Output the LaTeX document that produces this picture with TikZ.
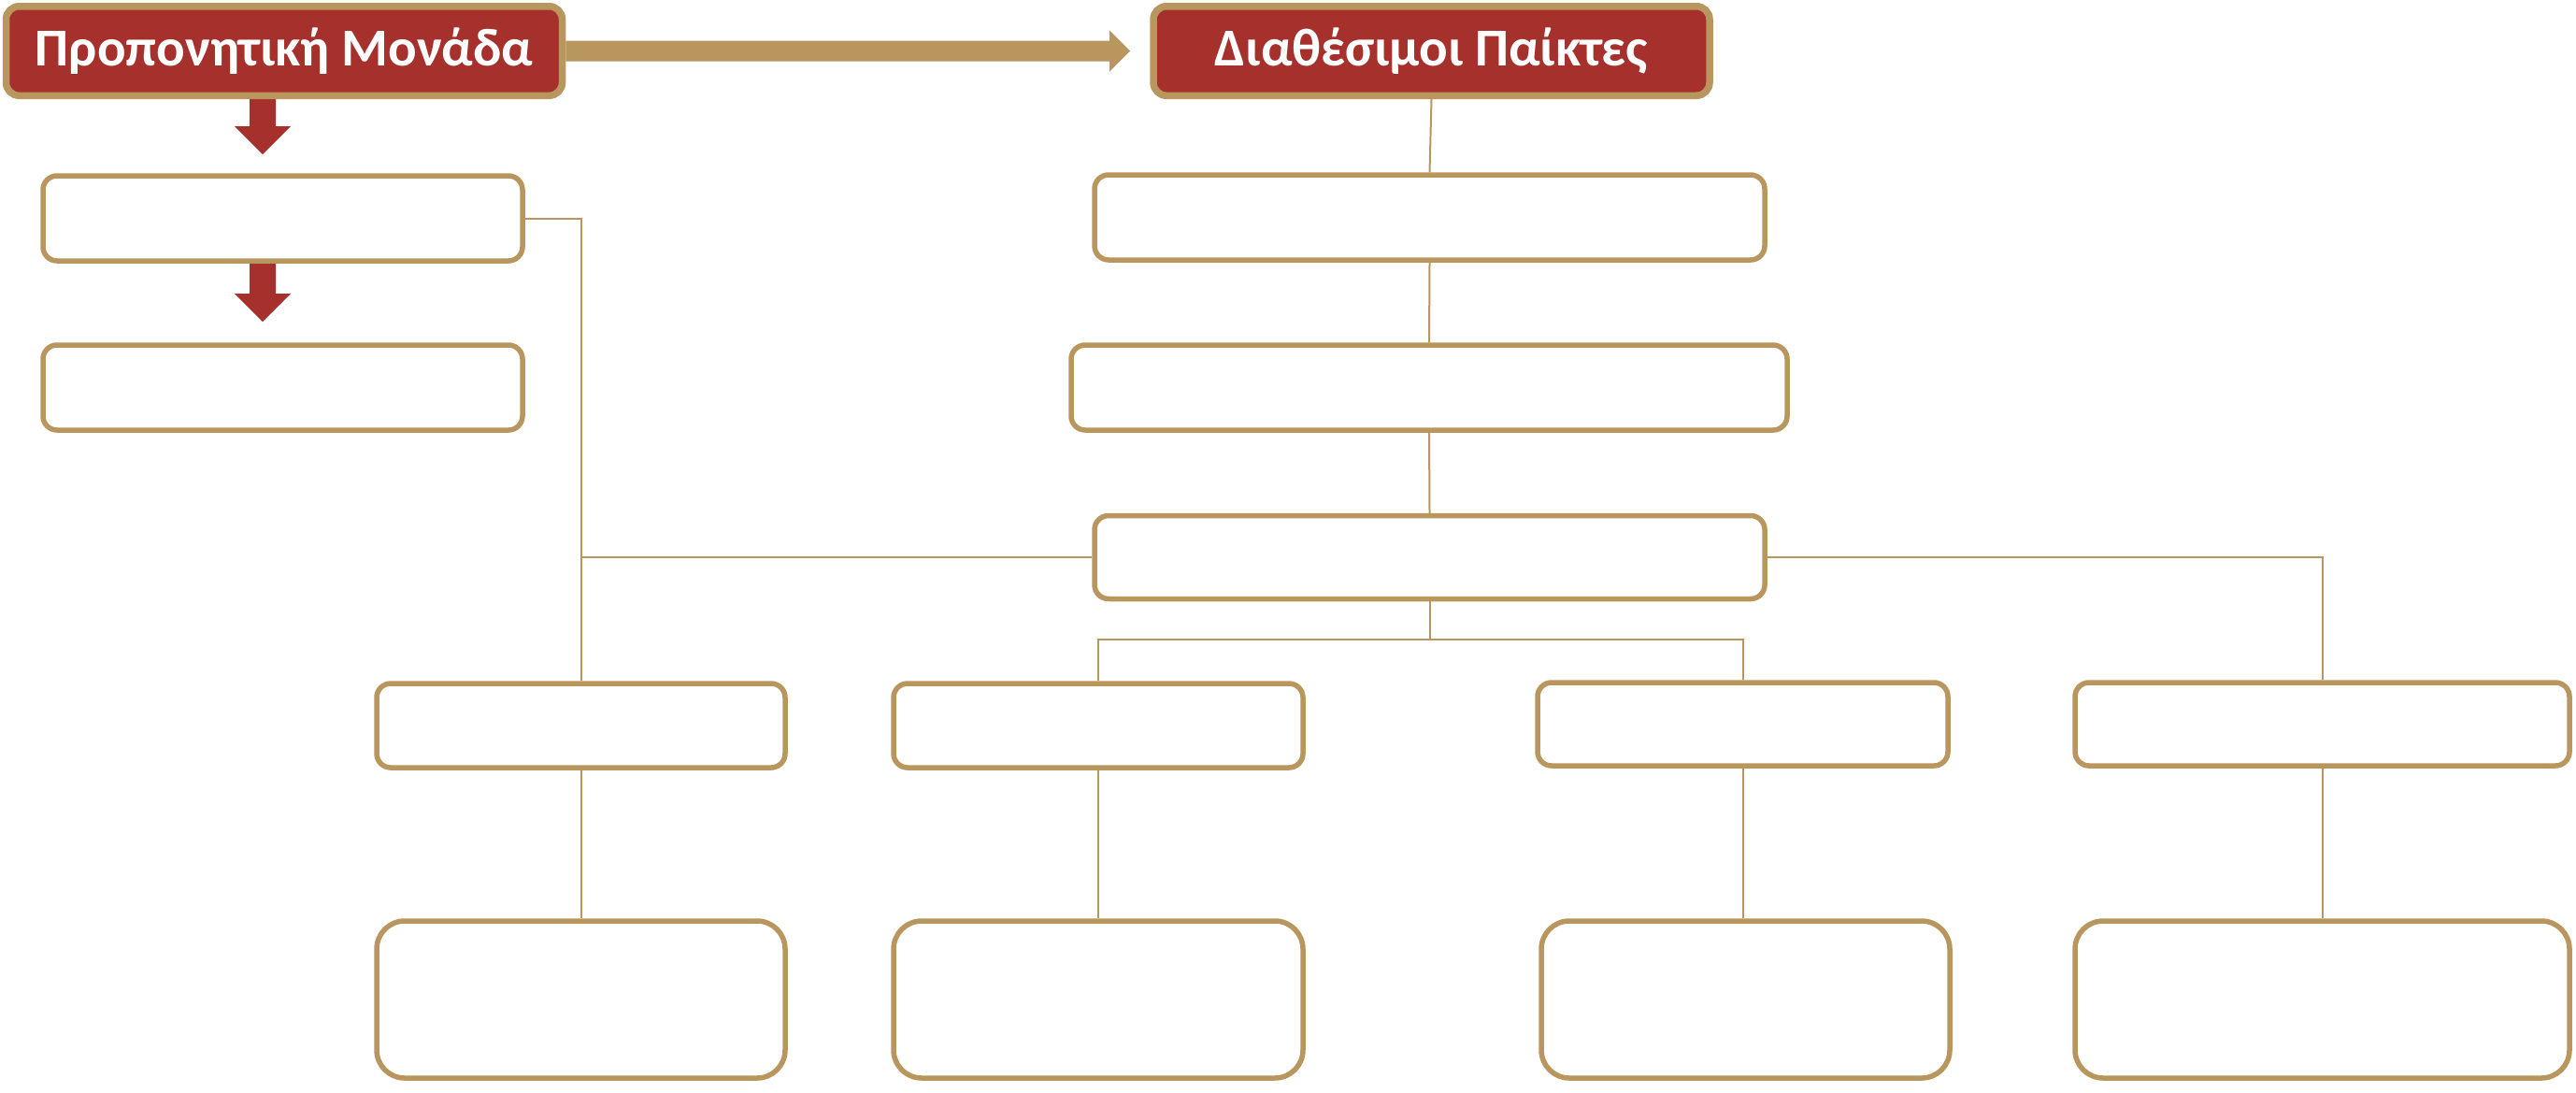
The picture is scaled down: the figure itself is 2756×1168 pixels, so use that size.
\documentclass[tikz,border=0pt]{standalone}
\usepackage{fontspec}
\setmainfont{Carlito}
\usetikzlibrary{calc}
\pgfdeclarelayer{background}
\pgfsetlayers{background,main}
\definecolor{gold}{RGB}{184,150,94}
\definecolor{darkred}{RGB}{165,48,44}
\begin{document}
\begin{tikzpicture}[x=1pt,y=-1pt,
  header/.style={draw=gold, line width=7.5pt, fill=darkred, rounded corners=14pt,
    text=white, font=\fontsize{57}{62}\selectfont\bfseries, inner sep=0pt, minimum width=595pt, minimum height=95.5pt},
  box/.style={draw=gold, line width=5.5pt, fill=white, rounded corners=15pt, inner sep=0pt, minimum height=91pt},
  tallbox/.style={draw=gold, line width=5.5pt, fill=white, rounded corners=30pt, inner sep=0pt, minimum height=168pt},
  link/.style={draw=gold, line width=2pt}]
\useasboundingbox (0,0) rectangle (2756,1168);
% headers
\node[header] (H1) at (304,54.5) {Προπονητική Μονάδα};
\node[header] (H2) at (1531.5,54.5) {Διαθέσιμοι Παίκτες};
% left column
\node[box, minimum width=513pt] (A) at (302.5,233.5) {};
\node[box, minimum width=513pt] (B) at (302.5,414.5) {};
% right column
\node[box, minimum width=717pt] (R1) at (1529.5,232.5) {};
\node[box, minimum width=766pt] (R2) at (1529,414.5) {};
\node[box, minimum width=717pt, minimum height=89pt] (R3) at (1529.5,596) {};
% level 3
\node[box, minimum width=437pt, minimum height=90pt] (L1) at (621.5,776) {};
\node[box, minimum width=438pt, minimum height=90pt] (L2) at (1175,776) {};
\node[box, minimum width=439pt, minimum height=89pt] (L3) at (1864.5,774.5) {};
\node[box, minimum width=529pt, minimum height=89pt] (L4) at (2484.5,774.5) {};
% level 4
\node[tallbox, minimum width=437pt] (M1) at (621.5,1069) {};
\node[tallbox, minimum width=438pt] (M2) at (1175,1069) {};
\node[tallbox, minimum width=437pt] (M3) at (1867.5,1069) {};
\node[tallbox, minimum width=529pt] (M4) at (2484.5,1069) {};
\coordinate (J) at (1529.5,684);
\begin{pgfonlayer}{background}
  % connectors
  \draw[link] (A.east) -| (L1.north);
  \draw[link] (R3.west) -- (R3.west -| L1.north);
  \draw[link] (R3.east) -| (L4.north);
  \draw[link] (R3.south) -- (J);
  \draw[link] (L2.north) |- (J) -| (L3.north);
  \draw[link] (H2.south) -- (R1.north);
  \draw[link] (R1.south) -- (R2.north);
  \draw[link] (R2.south) -- (R3.north);
  \draw[link] (L1.south) -- (M1.north);
  \draw[link] (L2.south) -- (M2.north);
  \draw[link] (L3.south) -- (L3.south |- M3.north);
  \draw[link] (L4.south) -- (M4.north);
  % gold block arrow
  \fill[gold] ($(H1.east)+(0,-11)$) -- (1187,43.5) -- (1187,32.5) -- (1209,54.5)
     -- (1187,76.5) -- (1187,65.5) -- ($(H1.east)+(0,11)$) -- cycle;
  % red block arrows
  \fill[darkred] (267,102) -- (267,135) -- (251,135) -- (281,165) -- (311,135) -- (295,135) -- (295,102) -- cycle;
  \fill[darkred] (267,281) -- (267,314) -- (251,314) -- (281,344) -- (311,314) -- (295,314) -- (295,281) -- cycle;
\end{pgfonlayer}
\end{tikzpicture}
\end{document}
